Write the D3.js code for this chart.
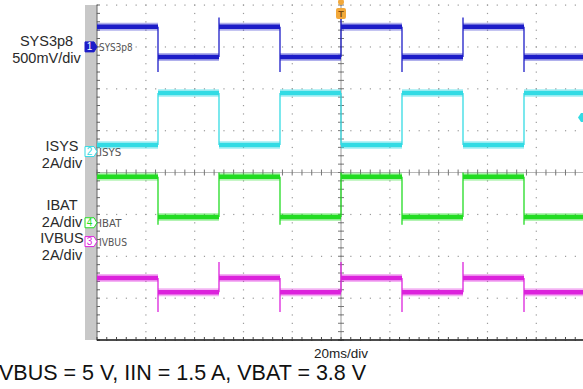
<!DOCTYPE html>
<html>
<head>
<meta charset="utf-8">
<script src="https://cdn.jsdelivr.net/npm/d3@7"></script>
<style>
  body { margin: 0; background: #fff; }
  svg { display: block; }
</style>
</head>
<body>
<svg id="scope" width="583" height="389"></svg>
<script>
// scope settings and readings (time in ms, trigger at 0)
var timeRange = [-100, 100];
var edgeTimes = [-75, -50, -25, 0, 25, 50, 75];
var loadOn = [0, 1, 0, 1, 0, 1, 0, 1];          // state of each segment between edges

var channelNames = ["SYS3p8", "ISYS", "IBAT", "IVBUS"];
var channelNums = ["1", "2", "4", "3"];
var channelScales = ["500mV/div", "2A/div", "2A/div", "2A/div"];
var perDiv = [0.5, 2, 2, 2];
var markerDiv = [3.0, 0.5, -1.2, -1.65];
var levelOff = [0.24, 0.31, 2.2, -1.74];
var levelOn = [-0.12, 2.8, 0.28, -2.42];
var spikeOn = [-0.30, 2.8, -0.1, -3.36];         // spike when load switches on
var spikeOff = [0.35, 0.31, 2.4, -0.98];         // spike when load switches off
var colors = ["#1c1cc8", "#33dbe4", "#22dc22", "#dc22dc"];

var svg = d3.select("#scope");
var x = d3.scaleLinear().domain(timeRange).range([97, 585]);
var y = d3.scaleLinear().domain([-4, 4]).range([340, 5]);

function yOf(ch, v) { return y(markerDiv[ch] + v / perDiv[ch]); }

// grey strip on the left
svg.append("rect").attr("x", 85).attr("y", 5).attr("width", 12).attr("height", 335).attr("fill", "#c8c8c8");

// dotted grid
var grid = svg.append("g");
var divX = d3.range(-100, 101, 20);
var divY = d3.range(-4, 5, 1);
var minorX = d3.range(-100, 100.1, 4);
var minorY = d3.range(-4, 4.01, 0.2);
divY.forEach(function(d) {
  grid.selectAll(null).data(minorX).enter().append("rect")
    .attr("x", function(t) { return x(t) - 0.5; })
    .attr("y", y(d) - 0.5)
    .attr("width", 1.2).attr("height", 1.2)
    .attr("fill", "#9a9a9a");
});
divX.forEach(function(t) {
  grid.selectAll(null).data(minorY).enter().append("rect")
    .attr("x", x(t) - 0.5)
    .attr("y", function(d) { return y(d) - 0.5; })
    .attr("width", 1.2).attr("height", 1.2)
    .attr("fill", "#9a9a9a");
});

// centre axes with ticks
grid.append("line").attr("x1", 97).attr("x2", 585).attr("y1", y(0)).attr("y2", y(0))
  .attr("stroke", "#b8b8b8").attr("stroke-width", 1);
grid.selectAll(null).data(minorX).enter().append("line")
  .attr("x1", function(t) { return x(t); }).attr("x2", function(t) { return x(t); })
  .attr("y1", y(0) - 3).attr("y2", y(0) + 3)
  .attr("stroke", "#777").attr("stroke-width", 1);
grid.append("line").attr("x1", x(0)).attr("x2", x(0)).attr("y1", 5).attr("y2", 340)
  .attr("stroke", "#999").attr("stroke-width", 1);
grid.selectAll(null).data(minorY).enter().append("line")
  .attr("x1", x(0) - 3).attr("x2", x(0) + 3)
  .attr("y1", function(d) { return y(d); }).attr("y2", function(d) { return y(d); })
  .attr("stroke", "#777").attr("stroke-width", 1);

// borders with ticks
grid.append("line").attr("x1", 97).attr("x2", 97).attr("y1", 5).attr("y2", 340)
  .attr("stroke", "#666").attr("stroke-width", 1);
grid.selectAll(null).data(minorY).enter().append("line")
  .attr("x1", 97).attr("x2", 100)
  .attr("y1", function(d) { return y(d); }).attr("y2", function(d) { return y(d); })
  .attr("stroke", "#666");
grid.append("line").attr("x1", 97).attr("x2", 585).attr("y1", 340).attr("y2", 340)
  .attr("stroke", "#111").attr("stroke-width", 1.5);
grid.selectAll(null).data(minorX).enter().append("line")
  .attr("x1", function(t) { return x(t); }).attr("x2", function(t) { return x(t); })
  .attr("y1", 340).attr("y2", 337)
  .attr("stroke", "#444");

// traces
var bounds = [timeRange[0]].concat(edgeTimes).concat([timeRange[1]]);
var traces = svg.append("g");
[3, 2, 1, 0].forEach(function(ch) {
  var g = traces.append("g");
  var segs = loadOn.map(function(s, i) {
    return { t0: bounds[i], t1: bounds[i + 1], v: s ? levelOn[ch] : levelOff[ch] };
  });
  // fuzz band
  g.selectAll(null).data(segs).enter().append("line")
    .attr("x1", function(d) { return x(d.t0); }).attr("x2", function(d) { return x(d.t1); })
    .attr("y1", function(d) { return yOf(ch, d.v); }).attr("y2", function(d) { return yOf(ch, d.v); })
    .attr("stroke", colors[ch]).attr("stroke-opacity", 0.35).attr("stroke-width", 8);
  g.selectAll(null).data(segs).enter().append("line")
    .attr("x1", function(d) { return x(d.t0); }).attr("x2", function(d) { return x(d.t1); })
    .attr("y1", function(d) { return yOf(ch, d.v); }).attr("y2", function(d) { return yOf(ch, d.v); })
    .attr("stroke", colors[ch]).attr("stroke-width", 4.5);
  // edges with spikes
  var edges = edgeTimes.map(function(t, i) {
    var on = loadOn[i + 1];
    var vals = [levelOff[ch], levelOn[ch], on ? spikeOn[ch] : spikeOff[ch]];
    return { t: t, lo: d3.min(vals), hi: d3.max(vals) };
  });
  g.selectAll(null).data(edges).enter().append("line")
    .attr("x1", function(d) { return x(d.t); }).attr("x2", function(d) { return x(d.t); })
    .attr("y1", function(d) { return yOf(ch, d.lo); }).attr("y2", function(d) { return yOf(ch, d.hi); })
    .attr("stroke", colors[ch]).attr("stroke-width", 1.3);
});

// channel markers on the strip
var markers = svg.append("g");
channelNames.forEach(function(name, ch) {
  var my = y(markerDiv[ch]);
  markers.append("path")
    .attr("d", "M85," + (my - 5) + "H94L97," + my + "L94," + (my + 5) + "H85Z")
    .attr("fill", ch == 0 ? colors[ch] : "#fff")
    .attr("stroke", colors[ch]).attr("stroke-width", 1);
  markers.append("text").attr("x", 89.5).attr("y", my + 3.5)
    .attr("text-anchor", "middle")
    .attr("font-family", "Liberation Sans, Arial, sans-serif").attr("font-size", 10)
    .attr("fill", ch == 0 ? "#fff" : colors[ch])
    .text(channelNums[ch]);
  markers.append("text").attr("x", 99).attr("y", my + 4)
    .attr("font-family", "DejaVu Sans, sans-serif").attr("font-size", 11)
    .attr("textLength", name.length * 5.6).attr("lengthAdjust", "spacingAndGlyphs")
    .attr("fill", "#555")
    .text(name);
});

// trigger marker
svg.append("circle").attr("cx", x(0)).attr("cy", 2).attr("r", 3).attr("fill", "#f2a83a");
svg.append("rect").attr("x", x(0) - 5).attr("y", 8).attr("width", 10).attr("height", 11).attr("rx", 2)
  .attr("fill", "#f2a83a");
svg.append("text").attr("x", x(0)).attr("y", 17).attr("text-anchor", "middle")
  .attr("font-family", "Liberation Sans, Arial, sans-serif").attr("font-size", 9).attr("font-weight", "bold")
  .attr("fill", "#7a4a10").text("T");

// trigger level arrow on the right edge
svg.append("path").attr("d", "M583,113H581L578,117.5L581,122H583Z").attr("fill", colors[1]);

// left labels
var labelX = [46.5, 62, 62, 62];
var labelY = [46, 151, 210, 243];
var lab = svg.append("g").attr("font-family", "Liberation Sans, Arial, sans-serif")
  .attr("font-size", 14.5).attr("fill", "#2a2a2a").attr("text-anchor", "middle");
channelNames.forEach(function(name, ch) {
  lab.append("text").attr("x", labelX[ch]).attr("y", labelY[ch]).text(name);
  lab.append("text").attr("x", labelX[ch]).attr("y", labelY[ch] + 16.5).text(channelScales[ch]);
});

// bottom texts
svg.append("text").attr("x", x(0)).attr("y", 358).attr("text-anchor", "middle")
  .attr("font-family", "Liberation Sans, Arial, sans-serif").attr("font-size", 13.5)
  .attr("fill", "#222").text("20ms/div");
svg.append("text").attr("x", -1).attr("y", 380)
  .attr("font-family", "Liberation Sans, Arial, sans-serif").attr("font-size", 21.5)
  .attr("fill", "#111").text("VBUS = 5 V, IIN = 1.5 A, VBAT = 3.8 V");
</script>
</body>
</html>
